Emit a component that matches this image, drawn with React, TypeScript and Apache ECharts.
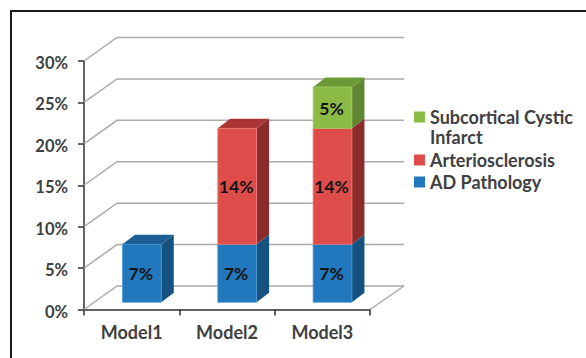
import React, { useEffect, useRef } from "react";
import * as echarts from "echarts";

const categories = ["Model1", "Model2", "Model3"];
const adPathology = [7, 7, 7];
const arteriosclerosis = [0, 14, 14];
const subcorticalInfarct = [0, 0, 5];
const percentTicks = [0, 5, 10, 15, 20, 25, 30];

const FONT = "Lato, 'Open Sans', sans-serif";
const TEXT = "#404040";
const WALL = "#adaba9";

const palette = {
  ad: { front: "#2178bd", top: "#1d5f95", side: "#15527f", edge: "#4c98d2" },
  art: { front: "#df4d4b", top: "#aa3433", side: "#8c2b2b", edge: "#e87a78" },
  sub: { front: "#8cbb45", top: "#6b9a38", side: "#5f8732", edge: "#a5cc6c" },
};

// Oblique projection of the chart's depth, in pixels
const WALL_DX = 33;
const WALL_DY = 23.5;
const BAR_INSET_X = 10.2;
const BAR_INSET_Y = 7.2;
const BAR_DX = 12.5;
const BAR_DY = 9.5;

const stackTop = (i: number) => adPathology[i] + arteriosclerosis[i] + subcorticalInfarct[i];

function segmentRenderer(colors: typeof palette.ad) {
  return (_params: any, api: any) => {
    const cat = api.value(0);
    const base = api.value(1);
    const end = api.value(2);
    const band = api.size([1, 0])[0];
    const w = band * 0.407;
    const [cx, yBase] = api.coord([cat, base]);
    const [, yEnd] = api.coord([cat, end]);
    const x0 = cx + BAR_INSET_X - w / 2;
    const x1 = x0 + w;
    const yb = yBase - BAR_INSET_Y;
    const yt = yEnd - BAR_INSET_Y;
    const children: any[] = [
      {
        type: "polygon",
        shape: { points: [[x1, yb], [x1 + BAR_DX, yb - BAR_DY], [x1 + BAR_DX, yt - BAR_DY], [x1, yt]] },
        style: { fill: colors.side },
      },
    ];
    if (end === stackTop(cat)) {
      children.push({
        type: "polygon",
        shape: { points: [[x0, yt], [x1, yt], [x1 + BAR_DX, yt - BAR_DY], [x0 + BAR_DX, yt - BAR_DY]] },
        style: { fill: colors.top },
      });
    }
    children.push({
      type: "rect",
      shape: { x: x0, y: yt, width: w, height: yb - yt },
      style: { fill: colors.front, stroke: colors.edge, lineWidth: 0.8 },
    });
    children.push({
      type: "text",
      style: {
        x: x0 + w / 2 - 1,
        y: (yb + yt) / 2 + 0.5,
        text: `${end - base}%`,
        align: "center",
        verticalAlign: "middle",
        fill: "#141414",
        font: `700 17.5px ${FONT}`,
      },
    });
    return { type: "group", children };
  };
}

function segmentData(base: number[], values: number[]) {
  return values
    .map((v, i) => [i, base[i], base[i] + v, v])
    .filter((row) => row[3] > 0);
}

// Side wall, back wall and floor of the 3D plot box, one polyline per tick
function renderWalls(params: any, api: any) {
  const tick = api.value(0);
  const box = params.coordSys;
  const xLeft = box.x;
  const xRight = box.x + box.width;
  const [, y] = api.coord([0, tick]);
  const children: any[] = [
    {
      type: "polyline",
      shape: {
        points: [
          [xLeft, y],
          [xLeft + WALL_DX, y - WALL_DY],
          [xRight + WALL_DX + 1, y - WALL_DY],
        ],
      },
      style: { stroke: WALL, lineWidth: 1.5, fill: "none" },
    },
  ];
  if (tick === 0) {
    children.push({
      type: "line",
      shape: { x1: xRight, y1: y, x2: xRight + WALL_DX + 1, y2: y - WALL_DY },
      style: { stroke: WALL, lineWidth: 1.5 },
    });
  }
  return { type: "group", children };
}

const legendRows = [
  { label: "Subcortical Cystic\nInfarct", color: palette.sub.front },
  { label: "Arteriosclerosis", color: palette.art.front },
  { label: "AD Pathology", color: palette.ad.front },
];
const legendRowY = [117, 160, 182];

export default function App() {
  const ref = useRef<HTMLDivElement>(null);

  useEffect(() => {
    const chart = echarts.init(ref.current!, null, { renderer: "svg" });
    const artBase = adPathology;
    const subBase = adPathology.map((v, i) => v + arteriosclerosis[i]);
    const zeros = adPathology.map(() => 0);

    chart.setOption({
      animation: false,
      backgroundColor: "#ffffff",
      grid: { left: 84, top: 61, width: 286, height: 248.5, containLabel: false },
      xAxis: {
        type: "category",
        data: categories,
        axisLine: { lineStyle: { color: "#303030", width: 1.5 } },
        axisTick: { show: true, alignWithLabel: false, length: 6, lineStyle: { color: "#303030", width: 1.5 } },
        axisLabel: { color: TEXT, fontFamily: FONT, fontSize: 18, fontWeight: 700, margin: 13, interval: 0 },
      },
      yAxis: {
        type: "value",
        min: 0,
        max: 30,
        interval: 5,
        axisLine: { show: true, lineStyle: { color: "#303030", width: 1.5 } },
        axisTick: { show: true, length: 6, lineStyle: { color: "#303030", width: 1.5 } },
        splitLine: { show: false },
        axisLabel: {
          color: TEXT,
          fontFamily: FONT,
          fontSize: 16.5,
          fontWeight: 700,
          margin: 16,
          verticalAlign: "top",
          lineHeight: 4,
          formatter: "{value}%",
        },
      },
      series: [
        {
          type: "custom",
          name: "Walls",
          renderItem: renderWalls,
          data: percentTicks.map((t) => [t]),
          encode: { y: 0 },
          clip: false,
          silent: true,
          z: 1,
        },
        {
          type: "custom",
          name: "AD Pathology",
          renderItem: segmentRenderer(palette.ad),
          data: segmentData(zeros, adPathology),
          encode: { x: 0, y: [1, 2] },
          clip: false,
          z: 2,
        },
        {
          type: "custom",
          name: "Arteriosclerosis",
          renderItem: segmentRenderer(palette.art),
          data: segmentData(artBase, arteriosclerosis),
          encode: { x: 0, y: [1, 2] },
          clip: false,
          z: 3,
        },
        {
          type: "custom",
          name: "Subcortical Cystic Infarct",
          renderItem: segmentRenderer(palette.sub),
          data: segmentData(subBase, subcorticalInfarct),
          encode: { x: 0, y: [1, 2] },
          clip: false,
          z: 4,
        },
      ],
      graphic: [
        {
          type: "polyline",
          shape: { points: [[11, 358], [11, 11], [586, 11]] },
          style: { stroke: "#1c1a1b", lineWidth: 2, fill: "none" },
        },
        ...legendRows.flatMap((row, i) => [
          {
            type: "rect",
            shape: { x: 414, y: legendRowY[i] - 5.5, width: 11, height: 11 },
            style: { fill: row.color },
          },
          {
            type: "text",
            x: 430,
            y: legendRowY[i] - 10.5,
            style: {
              text: row.label,
              fill: TEXT,
              font: `700 18px ${FONT}`,
              lineHeight: 20,
              verticalAlign: "top",
            },
          },
        ]),
      ],
    });
    return () => chart.dispose();
  }, []);

  return <div ref={ref} style={{ position: "fixed", left: 0, top: 0, width: 586, height: 358 }} />;
}
